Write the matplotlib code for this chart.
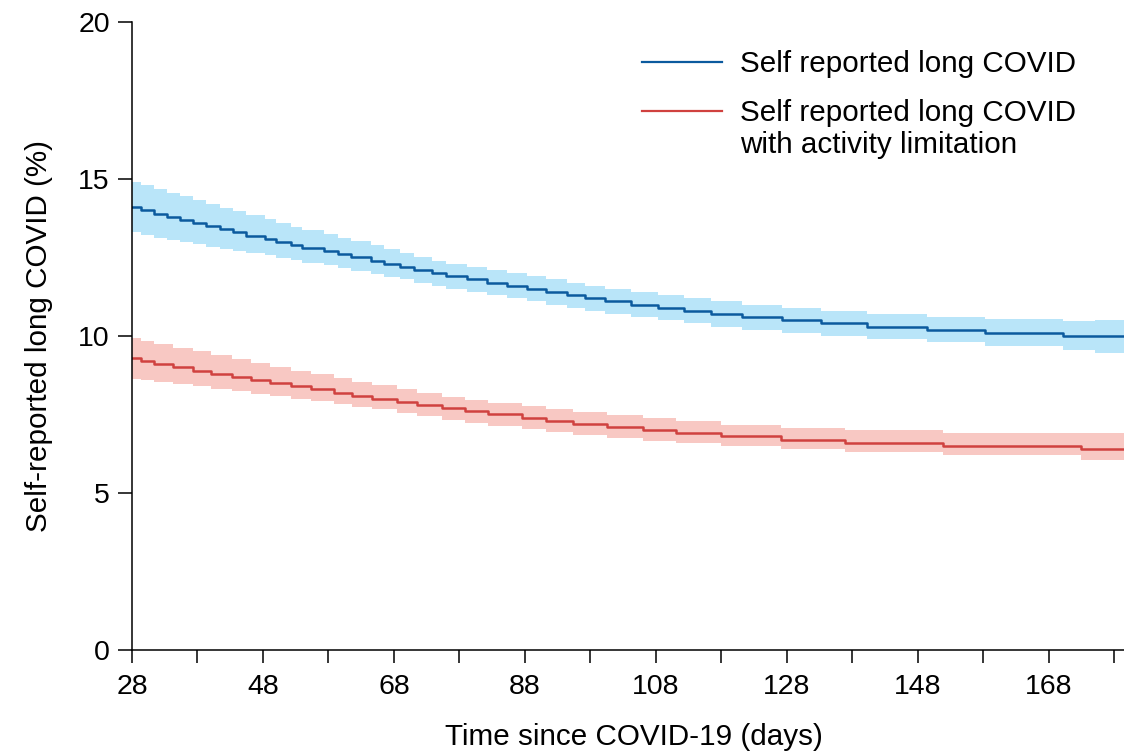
import numpy as np
import matplotlib
matplotlib.use("Agg")
import matplotlib.pyplot as plt
from matplotlib.lines import Line2D
from matplotlib.ticker import MultipleLocator

plt.rcParams.update({
    "font.family": ["Liberation Sans", "DejaVu Sans"],
    "font.size": 21,
})

# ---------------------------------------------------------------------------
# Data (step changes in days)
# ---------------------------------------------------------------------------
X_END = 179.5

blue_days = [28.0, 29.3, 31.3, 33.3, 35.3, 37.3, 39.3, 41.4, 43.4, 45.4, 48.3, 50.0,
             52.3, 54.0, 57.3, 59.4, 61.4, 64.5, 66.5, 69.0, 71.1, 73.8, 75.9,
             79.1, 82.2, 85.2, 88.3, 91.3, 94.4, 97.2, 100.2, 104.2, 108.3,
             112.3, 116.4, 121.2, 127.3, 133.3, 140.2, 149.4, 158.2, 170.2, 175.0]
blue_est = [14.1, 14.0, 13.9, 13.8, 13.7, 13.6, 13.5, 13.4, 13.3, 13.2, 13.1, 13.0,
            12.9, 12.8, 12.7, 12.6, 12.5, 12.4, 12.3, 12.2, 12.1, 12.0, 11.9,
            11.8, 11.7, 11.6, 11.5, 11.4, 11.3, 11.2, 11.1, 11.0, 10.9,
            10.8, 10.7, 10.6, 10.5, 10.4, 10.3, 10.2, 10.1, 10.0, 10.0]
blue_lo = [13.30, 13.22, 13.13, 13.06, 12.99, 12.92, 12.85, 12.78, 12.71, 12.64, 12.57, 12.49,
           12.42, 12.34, 12.26, 12.17, 12.08, 11.99, 11.89, 11.80, 11.70, 11.60, 11.50,
           11.40, 11.30, 11.20, 11.10, 11.00, 10.90, 10.80, 10.70, 10.60, 10.50,
           10.40, 10.30, 10.20, 10.10, 10.00, 9.90, 9.80, 9.68, 9.55, 9.47]
blue_hi = [14.90, 14.80, 14.68, 14.56, 14.45, 14.33, 14.21, 14.09, 13.97, 13.85, 13.72, 13.60,
           13.48, 13.37, 13.25, 13.13, 13.01, 12.89, 12.76, 12.64, 12.52, 12.40, 12.30,
           12.20, 12.10, 12.00, 11.90, 11.80, 11.70, 11.60, 11.50, 11.40, 11.30,
           11.20, 11.10, 11.00, 10.90, 10.80, 10.70, 10.60, 10.53, 10.48, 10.50]

red_days = [28.0, 29.4, 31.4, 34.2, 37.3, 40.1, 43.2, 46.2, 49.0, 52.3,
            55.3, 58.8, 61.6, 64.7, 68.5, 71.6, 75.4, 78.8, 82.4, 87.5,
            91.3, 95.4, 100.5, 106.0, 111.1, 117.9, 127.1, 136.9, 151.9, 173.0]
red_est = [9.3, 9.2, 9.1, 9.0, 8.9, 8.8, 8.7, 8.6, 8.5, 8.4,
           8.3, 8.2, 8.1, 8.0, 7.9, 7.8, 7.7, 7.6, 7.5, 7.4,
           7.3, 7.2, 7.1, 7.0, 6.9, 6.8, 6.7, 6.6, 6.5, 6.4]
red_lo = [8.63, 8.60, 8.54, 8.47, 8.40, 8.32, 8.24, 8.16, 8.08, 8.00,
          7.92, 7.84, 7.75, 7.66, 7.56, 7.46, 7.33, 7.23, 7.13, 7.03,
          6.94, 6.84, 6.74, 6.66, 6.58, 6.49, 6.41, 6.30, 6.20, 6.05]
red_hi = [9.93, 9.84, 9.74, 9.63, 9.52, 9.40, 9.27, 9.14, 9.02, 8.90,
          8.78, 8.66, 8.55, 8.44, 8.32, 8.20, 8.05, 7.97, 7.87, 7.77,
          7.68, 7.58, 7.48, 7.38, 7.28, 7.18, 7.08, 7.00, 6.92, 6.92]

series = [
    ("Self reported long COVID", blue_days, blue_est, blue_lo, blue_hi, "#0b5a9e", "#b9e5f9"),
    ("Self reported long COVID\nwith activity limitation", red_days, red_est, red_lo, red_hi,
     "#d0413f", "#f8c8c3"),
]

# ---------------------------------------------------------------------------
# Plot
# ---------------------------------------------------------------------------
fig = plt.figure(figsize=(11.24, 7.55), dpi=100)
ax = fig.add_axes([132 / 1124, 1 - 650 / 755, 1 - 132 / 1124, (650 - 22) / 755])

for label, d, est, lo, hi, lc, fc in series:
    d = list(d) + [X_END]
    est = list(est) + [est[-1]]
    lo = list(lo) + [lo[-1]]
    hi = list(hi) + [hi[-1]]
    ax.fill_between(d, lo, hi, step="post", color=fc, lw=0)
    ax.plot(d, est, drawstyle="steps-post", color=lc, lw=1.8)

ax.set_xlim(28, X_END)
ax.set_ylim(0, 20)
ax.xaxis.set_major_locator(MultipleLocator(20, offset=8))
ax.xaxis.set_minor_locator(MultipleLocator(10, offset=8))
ax.yaxis.set_major_locator(MultipleLocator(5))
ax.tick_params(axis="x", which="both", length=9, width=1.1, pad=8, labelsize=20.5)
ax.tick_params(axis="y", which="major", length=10, width=1.1, pad=6, labelsize=20.5)

for s in ["top", "right"]:
    ax.spines[s].set_visible(False)
for s in ["left", "bottom"]:
    ax.spines[s].set_linewidth(1.1)

ax.set_xlabel("Time since COVID-19 (days)", fontsize=21.3)
ax.xaxis.set_label_coords((634 - 132) / (1124 - 132), -0.117)
ax.set_ylabel("Self-reported long COVID (%)", fontsize=21.3, labelpad=18)

# legend drawn by hand so the handle sits on the first text line
leg_y = [62, 111]
for (label, *_rest), y in zip(series, leg_y):
    lc = _rest[4]
    fig.add_artist(Line2D([642 / 1124, 722 / 1124], [1 - y / 755, 1 - y / 755],
                          transform=fig.transFigure, color=lc, lw=1.6))
    fig.text(740 / 1124, 1 - (y - 12) / 755, label, fontsize=21.3, va="top", ha="left",
             linespacing=1.18)

fig.savefig("out.png", dpi=100)
